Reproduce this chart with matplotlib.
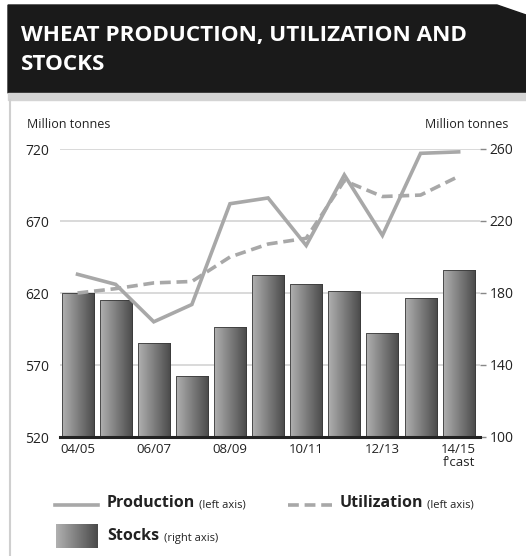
import numpy as np
import matplotlib
matplotlib.use("Agg")
import matplotlib.pyplot as plt
from matplotlib.patches import Polygon, Rectangle
from matplotlib.lines import Line2D

plt.rcParams['font.family'] = ['Open Sans', 'DejaVu Sans']

# data
seasons = ['04/05', '05/06', '06/07', '07/08', '08/09', '09/10',
           '10/11', '11/12', '12/13', '13/14', '14/15']
tick_labels = ['04/05', '', '06/07', '', '08/09', '', '10/11', '', '12/13', '', "14/15\nf'cast"]
production = [633, 626, 600, 612, 682, 686, 653, 702, 660, 717, 718]
utilization = [620, 623, 627, 628, 645, 654, 658, 698, 687, 688, 701]
stocks = [180, 176, 152, 134, 161, 190, 185, 181, 158, 177, 193]

W, H = 526, 556
fig = plt.figure(figsize=(W / 100, H / 100), dpi=100)

# header box
hdr = fig.add_axes([0, 0, 1, 1], zorder=-5)
hdr.set_xlim(0, W)
hdr.set_ylim(H, 0)
hdr.axis('off')
hdr.add_patch(Polygon([[8, 5], [497, 5], [526, 15], [526, 93], [8, 93]],
                      closed=True, color='#1a1a1a'))
hdr.add_patch(Rectangle((8, 93), 518, 7, color='#d4d4d4'))
hdr.plot([10, 10], [100, 556], color='#cfcfcf', lw=1.5)
hdr.text(21, 35, 'WHEAT PRODUCTION, UTILIZATION AND', color='white',
         fontsize=16.2, fontweight='bold', va='center')
hdr.text(21, 64, 'STOCKS', color='white', fontsize=16.2, fontweight='bold', va='center')
hdr.text(27, 125, 'Million tonnes', fontsize=9, va='center', color='#222')
hdr.text(508, 125, 'Million tonnes', fontsize=9, va='center', ha='right', color='#222')

# main axes
x0, x1, ytop, ybot = 60, 480, 149, 437
rect = [x0 / W, (H - ybot) / H, (x1 - x0) / W, (ybot - ytop) / H]
ax2 = fig.add_axes(rect)
ax = ax2.twinx()
ax.set_zorder(ax2.get_zorder() + 1)
ax.patch.set_visible(False)

x = np.arange(len(seasons))
base = 100

# stocks bars with horizontal gradient
grad = np.linspace(0, 1, 64).reshape(1, -1)
cmap = matplotlib.colors.LinearSegmentedColormap.from_list('g', ['#b0b0b0', '#4a4a4a'])
bars = ax2.bar(x, np.array(stocks) - base, width=0.84, bottom=base, color='none',
               edgecolor='#3a3a3a', lw=0.6, zorder=3)
for b in bars:
    bx, bw, bh = b.get_x(), b.get_width(), b.get_height()
    im = ax2.imshow(grad, extent=[bx, bx + bw, base, base + bh], aspect='auto', cmap=cmap, zorder=2)
    im.set_clip_path(b)

ax2.set_ylim(100, 260)
ax2.set_xlim(-0.46, 10.56)
ax2.set_yticks([100, 140, 180, 220, 260])
ax2.yaxis.tick_right()
ax2.grid(axis='y', color='#d9d9d9', lw=1.4, zorder=0)
ax2.set_axisbelow(True)

# lines on left axis
ax.plot(x, production, color='#a8a8a8', lw=2.6, solid_joinstyle='miter', zorder=5)
ax.plot(x, utilization, color='#a8a8a8', lw=2.6, ls=(0, (3, 1.6)), zorder=5)
ax.set_ylim(520, 720)
ax.set_yticks([520, 570, 620, 670, 720])
ax.yaxis.tick_left()

for a in (ax, ax2):
    for s in ['top', 'left', 'right']:
        a.spines[s].set_visible(False)
ax2.spines['bottom'].set_visible(False)
ax.spines['bottom'].set_color('#222')
ax.spines['bottom'].set_linewidth(2.2)

ax2.set_xticks(x)
ax2.set_xticklabels(tick_labels, fontsize=9.5, color='#222', linespacing=1.0)
ax2.tick_params(axis='x', length=0, pad=4)
ax.tick_params(axis='y', length=0, labelsize=10, labelcolor='#222', pad=8)
ax2.tick_params(axis='y', length=4, width=1, color='#888', labelsize=10, labelcolor='#222', pad=3)

# legend
hdr.add_line(Line2D([55, 98], [505, 505], color='#a8a8a8', lw=2.6))
hdr.text(107, 503, 'Production', fontsize=11.5, fontweight='bold', va='center', color='#222')
hdr.text(199, 505, '(left axis)', fontsize=8, va='center', color='#222')
hdr.add_line(Line2D([288, 332], [505, 505], color='#a8a8a8', lw=2.6, ls=(0, (3, 1.6))))
hdr.text(340, 503, 'Utilization', fontsize=11.5, fontweight='bold', va='center', color='#222')
hdr.text(427, 505, '(left axis)', fontsize=8, va='center', color='#222')
gax = fig.add_axes([56 / W, (H - 548) / H, 42 / W, 24 / H])
gax.imshow(grad, aspect='auto', cmap=cmap)
gax.axis('off')
hdr.text(107, 536, 'Stocks', fontsize=11.5, fontweight='bold', va='center', color='#222')
hdr.text(164, 538, '(right axis)', fontsize=8, va='center', color='#222')

fig.savefig('out.png', dpi=100)
